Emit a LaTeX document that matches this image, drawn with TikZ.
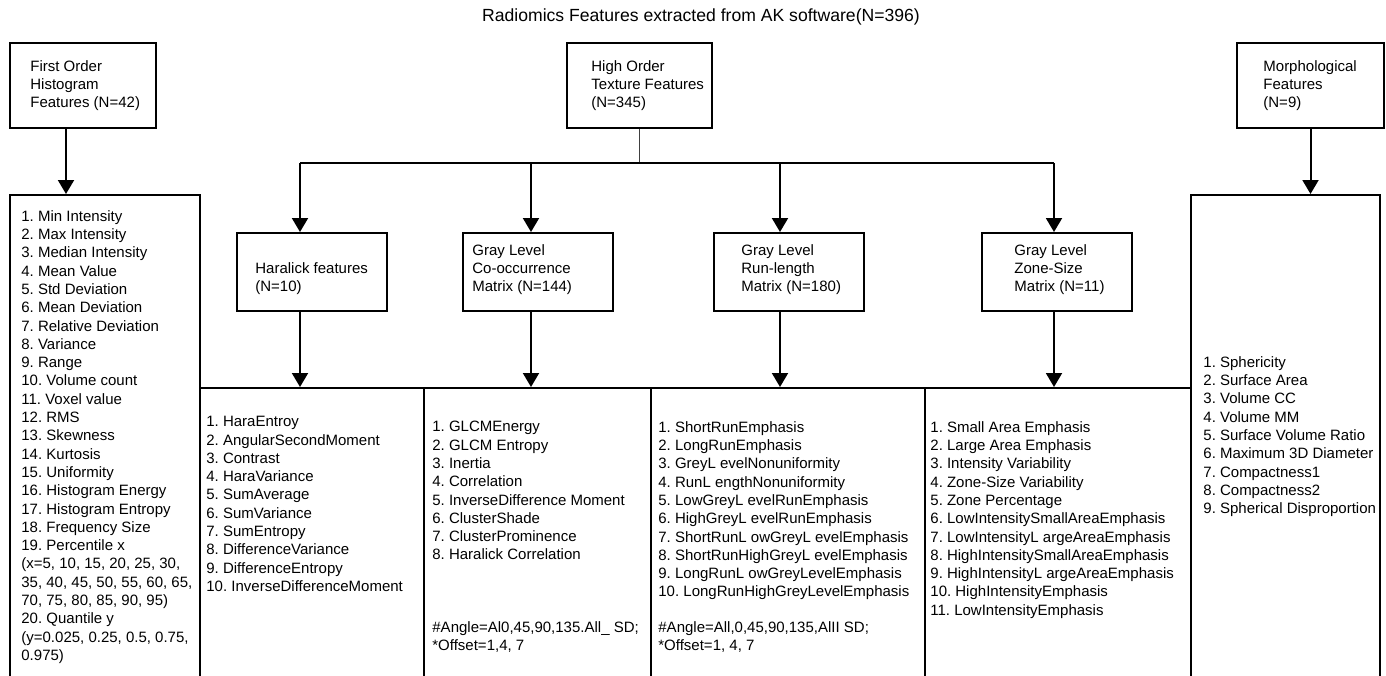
\documentclass[tikz,border=0pt]{standalone}
\usepackage{fontspec}
\setmainfont{Liberation Sans}
\usetikzlibrary{arrows.meta,calc}

\tikzset{
  box/.style={draw, line width=1pt, anchor=north west, inner sep=0pt},
  txt/.style={anchor=north west, inner sep=0pt, align=left, font=\fontsize{7.5}{9.15}\selectfont\frenchspacing},
  arr/.style={line width=1pt, -{Triangle[width=8pt,length=7pt]}},
  barline/.style={line width=1pt},
  stem/.style={line width=0.6pt, black!75}
}

\begin{document}
\begin{tikzpicture}[x=0.5pt,y=-0.5pt]
\useasboundingbox (0,0) rectangle (1386,675);

\node[txt, anchor=center, font=\fontsize{8.8}{10}\selectfont] (title) at (701,17) {Radiomics Features extracted from AK software(N=396)};

% top row
\node[box, minimum width=73pt, minimum height=42.5pt] (hist) at (9,42) {};
\node[box, minimum width=72.5pt, minimum height=42.5pt] (high) at (566,42) {};
\node[box, minimum width=73.5pt, minimum height=42.5pt] (morph) at (1236,42) {};

\node[txt] (histtxt) at (30,60) {First Order\\Histogram\\Features (N=42)};
\node[txt] (hightxt) at (591,60) {High Order\\Texture Features\\(N=345)};
\node[txt] (morphtxt) at (1263,60) {Morphological\\Features\\(N=9)};

% texture boxes
\node[box, minimum width=75pt, minimum height=39pt] (haralick) at (236,232) {};
\node[box, minimum width=75pt, minimum height=39pt] (glcm) at (462,232) {};
\node[box, minimum width=75pt, minimum height=39pt] (rl) at (713,232) {};
\node[box, minimum width=75pt, minimum height=39pt] (zone) at (981,232) {};

\node[txt] (haratxt) at (255,262) {Haralick features\\(N=10)};
\node[txt] (glcmtxt) at (472,244) {Gray Level\\Co-occurrence\\Matrix (N=144)};
\node[txt] (rltxt) at (741,244) {Gray Level\\Run-length\\Matrix (N=180)};
\node[txt] (zonetxt) at (1014,244) {Gray Level\\Zone-Size\\Matrix (N=11)};

% list boxes, open at the bottom
\node[box, minimum width=95pt, minimum height=253pt] (histlist) at (9,194) {};
\node[box, minimum width=94.5pt, minimum height=253pt] (morphlist) at (1190,194) {};
\node[box, minimum width=112pt, minimum height=156.5pt] (haralist) at (199,387) {};
\node[box, minimum width=113.5pt, minimum height=156.5pt] (glcmlist) at (423,387) {};
\node[box, minimum width=137pt, minimum height=156.5pt] (rllist) at (650,387) {};
\node[box, minimum width=133pt, minimum height=156.5pt] (zonelist) at (924,387) {};

\node[txt] (histitems) at (21,210) {1. Min Intensity\\2. Max Intensity\\3. Median Intensity\\4. Mean Value\\5. Std Deviation\\6. Mean Deviation\\7. Relative Deviation\\8. Variance\\9. Range\\10. Volume count\\11. Voxel value\\12. RMS\\13. Skewness\\14. Kurtosis\\15. Uniformity\\16. Histogram Energy\\17. Histogram Entropy\\18. Frequency Size\\19. Percentile x\\(x=5, 10, 15, 20, 25, 30,\\35, 40, 45, 50, 55, 60, 65,\\70, 75, 80, 85, 90, 95)\\20. Quantile y\\(y=0.025, 0.25, 0.5, 0.75,\\0.975)};

\node[txt] (haraitems) at (206,416) {1. HaraEntroy\\2. AngularSecondMoment\\3. Contrast\\4. HaraVariance\\5. SumAverage\\6. SumVariance\\7. SumEntropy\\8. DifferenceVariance\\9. DifferenceEntropy\\10. InverseDifferenceMoment};

\node[txt] (glcmitems) at (432,421) {1. GLCMEnergy\\2. GLCM Entropy\\3. Inertia\\4. Correlation\\5. InverseDifference Moment\\6. ClusterShade\\7. ClusterProminence\\8. Haralick Correlation};
\node[txt] (glcmangle) at (432,621) {\#Angle=Al0,45,90,135.All\_ SD;\\*Offset=1,4, 7};

\node[txt] (rlitems) at (658,421) {1. ShortRunEmphasis\\2. LongRunEmphasis\\3. GreyL evelNonuniformity\\4. RunL engthNonuniformity\\5. LowGreyL evelRunEmphasis\\6. HighGreyL evelRunEmphasis\\7. ShortRunL owGreyL evelEmphasis\\8. ShortRunHighGreyL evelEmphasis\\9. LongRunL owGreyLevelEmphasis\\10. LongRunHighGreyLevelEmphasis};
\node[txt] (rlangle) at (658,621) {\#Angle=All,0,45,90,135,AlII SD;\\*Offset=1, 4, 7};

\node[txt] (zoneitems) at (930,421) {1. Small Area Emphasis\\2. Large Area Emphasis\\3. Intensity Variability\\4. Zone-Size Variability\\5. Zone Percentage\\6. LowIntensitySmallAreaEmphasis\\7. LowIntensityL argeAreaEmphasis\\8. HighIntensitySmallAreaEmphasis\\9. HighIntensityL argeAreaEmphasis\\10. HighIntensityEmphasis\\11. LowIntensityEmphasis};

\node[txt] (morphitems) at (1203,356) {1. Sphericity\\2. Surface Area\\3. Volume CC\\4. Volume MM\\5. Surface Volume Ratio\\6. Maximum 3D Diameter\\7. Compactness1\\8. Compactness2\\9. Spherical Disproportion};

% connectors
\coordinate (histout) at ($(hist.south west)+(57,0)$);
\draw[arr] (histout) -- (histout |- histlist.north);
\draw[arr] (morph.south) -- (morph.south |- morphlist.north);

\coordinate (b1) at (300,163);
\coordinate (b2) at (531,163);
\coordinate (b3) at (780,163);
\coordinate (b4) at (1054,163);
\draw[stem] (high.south) -- (high.south |- b1);
\draw[barline] (b1) -- (b4);

\draw[arr] (b1) -- (b1 |- haralick.north);
\draw[arr] (b2) -- (b2 |- glcm.north);
\draw[arr] (b3) -- (b3 |- rl.north);
\draw[arr] (b4) -- (b4 |- zone.north);

\draw[arr] (b1 |- haralick.south) -- (b1 |- haralist.north);
\draw[arr] (b2 |- glcm.south) -- (b2 |- glcmlist.north);
\draw[arr] (b3 |- rl.south) -- (b3 |- rllist.north);
\draw[arr] (b4 |- zone.south) -- (b4 |- zonelist.north);
\end{tikzpicture}
\end{document}
